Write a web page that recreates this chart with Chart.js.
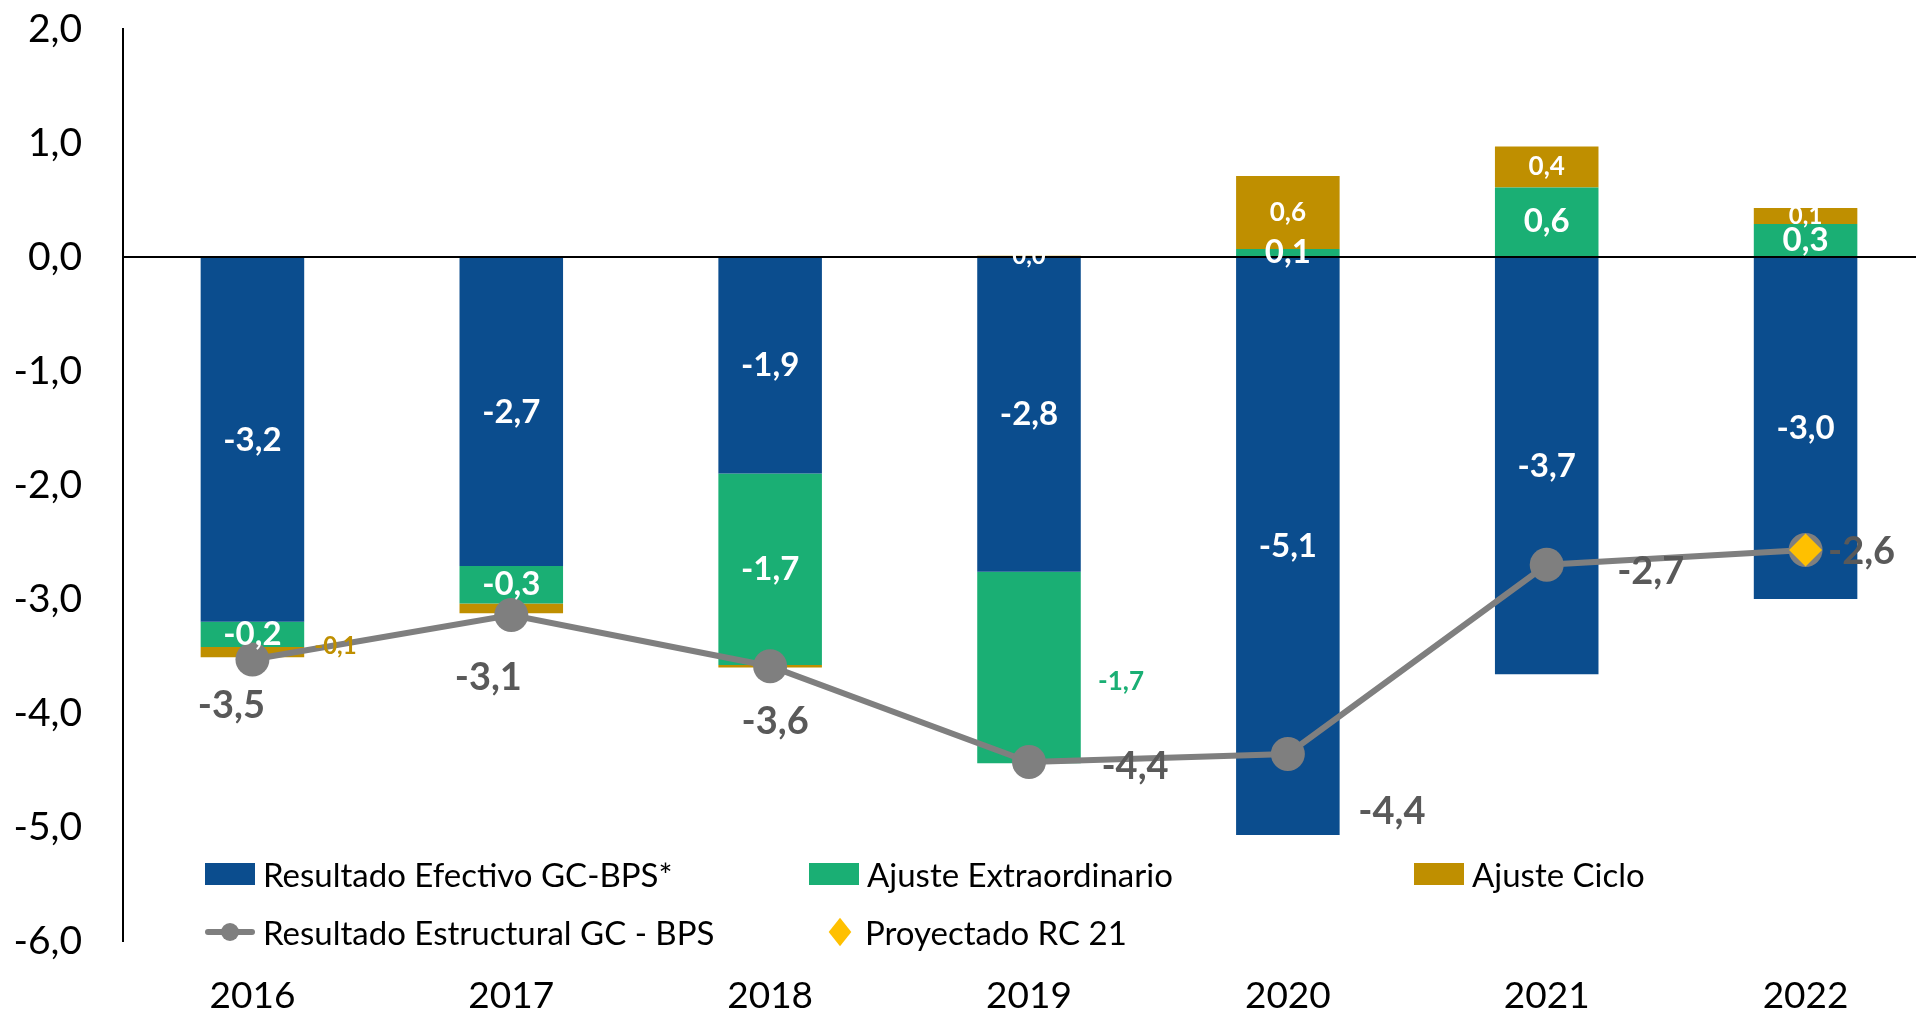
<!DOCTYPE html>
<html>
<head>
<meta charset="utf-8">
<script src="https://cdn.jsdelivr.net/npm/chart.js@4"></script>
<style>
  html, body { margin: 0; padding: 0; background: #fff; overflow: hidden; }
  #wrap { position: relative; width: 1952px; height: 1016px; }
  #legend { position: absolute; left: 0; top: 0; font-family: Lato, sans-serif; font-size: 33px; color: #000; }
  .item { position: absolute; height: 40px; display: flex; align-items: center; white-space: nowrap; }
</style>
</head>
<body>
<div id="wrap">
  <canvas id="chart" width="1952" height="1016"></canvas>
  <div id="legend"></div>
</div>
<script>
// ------------------------------
// DATA
// ------------------------------
const years = ["2016", "2017", "2018", "2019", "2020", "2021", "2022"];
const efectivo = [-3.2, -2.71, -1.9, -2.76, -5.07, -3.66, -3.0];
const extraordinario = [-0.22, -0.33, -1.68, -1.68, 0.07, 0.61, 0.29];
const ciclo = [-0.09, -0.085, -0.02, 0.01, 0.64, 0.36, 0.14];
const estructural = [-3.53, -3.14, -3.59, -4.43, -4.36, -2.70, -2.57];
const proyectado = [null, null, null, null, null, null, -2.57];
const yTicks = [2, 1, 0, -1, -2, -3, -4, -5, -6];

const BLUE = "#0B4D8E", GREEN = "#1AAF74", GOLD = "#BF8F00", GRAY = "#7F7F7F", YELLOW = "#FFC000";
const LABEL_GRAY = "#595959";

function fmt(v) {
    return Number(v).toFixed(1).replace(".", ",");
}

// ------------------------------
// VALUE LABELS
// ------------------------------
const valueLabels = {
    id: "valueLabels",
    afterDraw(chart) {
        const ctx = chart.ctx;
        chart.data.datasets.forEach((ds, di) => {
            const lab = ds.valueLabels;
            if (!lab) return;
            const meta = chart.getDatasetMeta(di);
            meta.data.forEach((el, i) => {
                const v = ds.data[i];
                if (v === null || (lab.hide && lab.hide.includes(i))) return;
                const sp = (lab.special && lab.special[i]) || {};
                const p = el.getCenterPoint();
                const dx = sp.dx !== undefined ? sp.dx : (lab.dx || 0);
                const dy = sp.dy !== undefined ? sp.dy : (lab.dy || 0);
                ctx.save();
                ctx.font = "bold " + (sp.size || lab.size) + "px Lato";
                ctx.fillStyle = sp.color || lab.color;
                ctx.textAlign = "center";
                ctx.textBaseline = "middle";
                ctx.fillText(fmt(v), p.x + dx, p.y + dy);
                ctx.restore();
            });
        });
    }
};

const ctx = document.getElementById("chart").getContext("2d");

const chart = new Chart(ctx, {
    type: "bar",
    data: {
        labels: years,
        datasets: [
            {
                label: "Resultado Efectivo GC-BPS*",
                data: efectivo,
                backgroundColor: BLUE,
                order: 3,
                valueLabels: { color: "#fff", size: 33 }
            },
            {
                label: "Ajuste Extraordinario",
                data: extraordinario,
                backgroundColor: GREEN,
                order: 3,
                valueLabels: {
                    color: "#fff", size: 33,
                    special: { 3: { dx: 92, dy: 14, color: GREEN, size: 26 } }
                }
            },
            {
                label: "Ajuste Ciclo",
                data: ciclo,
                backgroundColor: GOLD,
                order: 3,
                valueLabels: {
                    color: "#fff", size: 26, hide: [1, 2],
                    special: {
                        0: { dx: 83, dy: -6, color: GOLD, size: 24 },
                        3: { size: 24 },
                        6: { size: 24 }
                    }
                }
            },
            {
                type: "line",
                label: "Resultado Estructural GC - BPS",
                data: estructural,
                stack: "estructural",
                borderColor: GRAY,
                borderWidth: 6,
                pointRadius: 17,
                pointBackgroundColor: GRAY,
                pointBorderWidth: 0,
                order: 2,
                valueLabels: {
                    color: LABEL_GRAY, size: 38, hide: [6],
                    special: {
                        0: { dx: -21, dy: 46 },
                        1: { dx: -23, dy: 63 },
                        2: { dx: 5, dy: 55 },
                        3: { dx: 106, dy: 5 },
                        4: { dx: 104, dy: 58 },
                        5: { dx: 104, dy: 7 }
                    }
                }
            },
            {
                type: "line",
                label: "Proyectado RC 21",
                data: proyectado,
                stack: "proyectado",
                showLine: false,
                pointStyle: "rectRot",
                pointRadius: 16.5,
                pointBackgroundColor: YELLOW,
                pointBorderWidth: 0,
                order: 1,
                valueLabels: { color: LABEL_GRAY, size: 38, dx: 56, dy: 2 }
            }
        ]
    },
    options: {
        responsive: false,
        animation: false,
        layout: { padding: { left: 0, top: 29, right: 0, bottom: 0 } },
        datasets: { bar: { categoryPercentage: 1, barPercentage: 0.4 } },
        scales: {
            x: {
                stacked: true,
                grid: { display: false, drawTicks: false },
                border: { display: false },
                ticks: { color: "#000", font: { family: "Lato", size: 37 }, padding: 33 },
                afterFit: (axis) => {
                    axis.height = 75;
                    axis.paddingLeft = 0;
                    axis.paddingRight = 0;
                }
            },
            y: {
                stacked: true,
                min: yTicks[yTicks.length - 1],
                max: yTicks[0],
                z: 1,
                afterBuildTicks: (axis) => { axis.ticks = yTicks.map(v => ({ value: v })); },
                afterFit: (axis) => {
                    axis.width = 123;
                    axis.paddingTop = 0;
                    axis.paddingBottom = 0;
                },
                ticks: {
                    color: "#000",
                    padding: 41,
                    font: { family: "Lato", size: 39 },
                    callback: (v) => fmt(v)
                },
                grid: {
                    drawTicks: false,
                    lineWidth: 2,
                    color: (c) => (c.tick && c.tick.value === 0 ? "#000" : "rgba(0,0,0,0)")
                },
                border: { display: true, color: "#000", width: 2 }
            }
        },
        plugins: {
            legend: { display: false },
            tooltip: { enabled: false }
        }
    },
    plugins: [valueLabels]
});

// ------------------------------
// LEGEND (html, inside plot area)
// ------------------------------
const legendSpots = [
    { left: 205, top: 854 },
    { left: 809, top: 854 },
    { left: 1414, top: 854 },
    { left: 205, top: 912 },
    { left: 826, top: 912 }
];

const legend = document.getElementById("legend");
chart.data.datasets.forEach((ds, i) => {
    const item = document.createElement("div");
    item.className = "item";
    item.style.left = legendSpots[i].left + "px";
    item.style.top = legendSpots[i].top + "px";

    const icon = document.createElement("div");
    icon.style.position = "relative";
    icon.style.marginRight = "8px";
    if (ds.type === "line" && ds.showLine !== false) {
        icon.style.width = "50px";
        icon.style.height = "20px";
        icon.innerHTML =
            '<div style="position:absolute;left:0;top:7px;width:50px;height:6px;border-radius:3px;background:' + ds.borderColor + '"></div>' +
            '<div style="position:absolute;left:16px;top:1px;width:18px;height:18px;border-radius:50%;background:' + ds.pointBackgroundColor + '"></div>';
    } else if (ds.type === "line") {
        icon.style.width = "20px";
        icon.style.height = "20px";
        icon.style.margin = "0 15px 0 4px";
        icon.style.background = ds.pointBackgroundColor;
        icon.style.transform = "scaleX(0.8) rotate(45deg)";
    } else {
        icon.style.width = "50px";
        icon.style.height = "22px";
        icon.style.background = ds.backgroundColor;
    }

    const text = document.createElement("span");
    text.textContent = ds.label;

    item.appendChild(icon);
    item.appendChild(text);
    legend.appendChild(item);
});
</script>
</body>
</html>
